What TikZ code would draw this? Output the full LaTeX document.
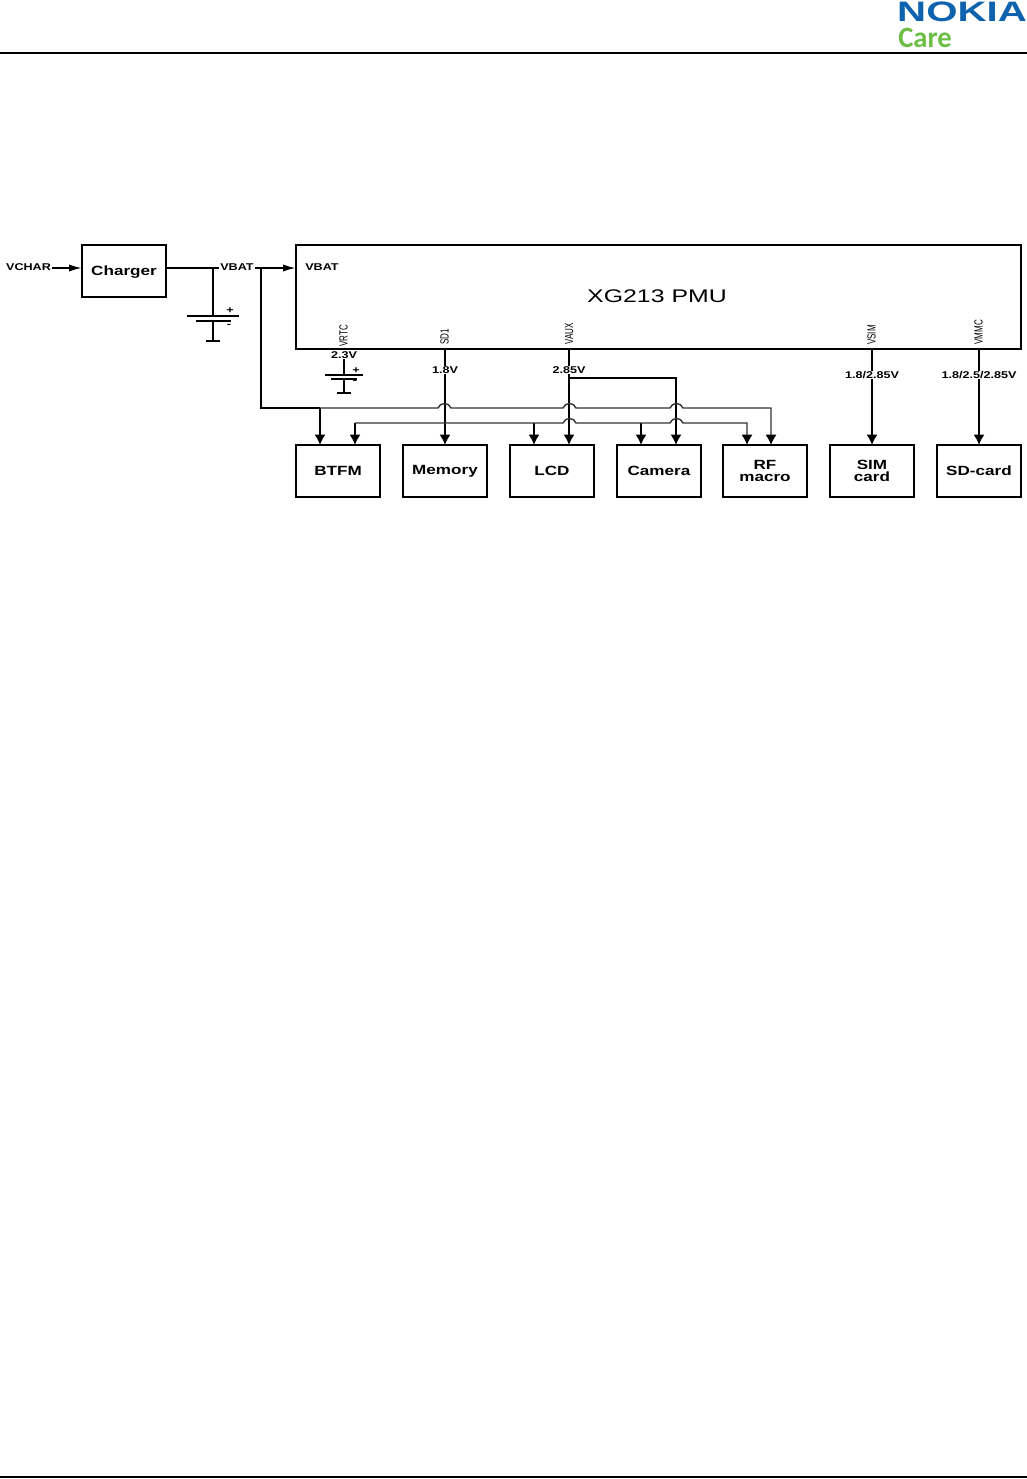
\documentclass[tikz,border=0pt]{standalone}
\usepackage{fontspec}
\setmainfont{Liberation Sans}
\newfontfamily\carefont{Carlito}
\usetikzlibrary{arrows.meta}
\newcommand{\wide}[1]{\scalebox{1.28}[1]{#1}}
\newcommand{\pin}[1]{\rotatebox{90}{\scalebox{.68}[1]{#1}}}
\definecolor{nokiablue}{HTML}{0F63AE}
\definecolor{caregreen}{HTML}{6DBE45}
\begin{document}
\begin{tikzpicture}[
    x=0.25mm, y=-0.25mm,
    >={Latex[length=2.6mm,width=2.8mm,color=black]},
    side/.style={-{Latex[length=3.2mm,width=1.8mm]}},
    font=\fontsize{9.5pt}{9pt}\selectfont\bfseries,
    box/.style={rectangle, draw=black, line width=2.05pt, text centered, align=center, minimum width=21mm, minimum height=13mm, inner sep=0pt, outer sep=0pt},
    pmubox/.style={rectangle, draw=black, line width=2pt, minimum width=181.25mm, minimum height=26mm, outer sep=0pt},
    wire/.style={draw=black, line width=1.4pt},
    bus/.style={draw=black!80, line width=1pt},
    plate/.style={draw=black, line width=1.1pt},
    tag/.style={font=\fontsize{7pt}{7pt}\selectfont\bfseries, inner sep=0.5pt},
    volt/.style={tag, fill=white},
    pinlabel/.style={font=\fontsize{8.4pt}{8pt}\selectfont, inner sep=0pt, anchor=south},
    rule/.style={draw=black, line width=1.4pt}
]
    \useasboundingbox (0,0) rectangle (1027,1479);

    % 1. Page header and footer
    \coordinate (headl) at (0,53);
    \coordinate (headr) at (1027,53);
    \coordinate (footl) at (0,1477);
    \coordinate (footr) at (1027,1477);
    \draw[rule] (headl) -- (headr);
    \draw[rule] (footl) -- (footr);
    \node[font=\fontsize{20pt}{20pt}\selectfont\bfseries, text=nokiablue, inner sep=0pt] (nokia) at (962,12) {\scalebox{1.43}[1]{NOKIA}};
    \node[font=\carefont\fontsize{21pt}{22pt}\selectfont\bfseries, text=caregreen, inner sep=0pt, anchor=west] (care) at (898,38) {\scalebox{.97}[1]{Care}};

    % 2. Charger and PMU
    \node[box] (charger) at (124,271) {\raisebox{-3pt}[0pt][0pt]{\wide{Charger}}};
    \node[pmubox] (pmu) at (658.5,297) {};
    \node[font=\fontsize{13pt}{13pt}\selectfont, inner sep=0pt] (pmuname) at (657,296) {\scalebox{1.36}[1]{XG213 PMU}};

    % 3. Load boxes
    \node[box] (btfm) at (338,471) {\wide{BTFM}};
    \node[box] (memory) at (445,471) {\raisebox{-2.6pt}[0pt][0pt]{\wide{Memory}}};
    \node[box] (lcd) at (552,471) {\wide{LCD}};
    \node[box] (camera) at (659,471) {\wide{Camera}};
    \node[box] (rf) at (765,471) {\wide{RF}\\\wide{macro}};
    \node[box] (sim) at (872,471) {\wide{SIM}\\\wide{card}};
    \node[box] (sd) at (979,471) {\wide{SD-card}};

    % 4. VBAT input
    \node[tag] (vchar) at (28.5,267) {\wide{VCHAR}};
    \node[tag] (vbat) at (237,267) {\wide{VBAT}};
    \node[tag] (pmuvbat) at (322,267) {\wide{VBAT}};
    \coordinate (vbatin) at (pmu.west |- 0,268);
    \coordinate (vbatj) at (261,268);
    \draw[wire, side] (vchar.east |- 0,268) -- (charger.west |- 0,268);
    \draw[wire] (charger.east |- 0,268) -- (vbat.west |- 0,268);
    \draw[wire, side] (vbat.east |- 0,268) -- (vbatin);

    % 5. Main battery
    \coordinate (bat1j) at (213,268);
    \coordinate (bat1t) at (213,316);
    \coordinate (bat1b) at (213,321);
    \coordinate (bat1g) at (213,341);
    \draw[wire] (bat1j) -- (bat1t);
    \draw[wire] (bat1b) -- (bat1g);
    \draw[plate] (187,316) -- (239,316);
    \draw[plate] (196,321) -- (231,321);
    \draw[plate] (206,341) -- (220,341);
    \node[tag] (bat1p) at (230,311) {\wide{+}};
    \node[tag] (bat1m) at (229,326) {\wide{-}};

    % 6. Backup battery
    \node[pinlabel] (vrtc) at (343.5,347) {\pin{VRTC}};
    \node[tag] (v23) at (344,355) {\wide{2.3V}};
    \coordinate (bat2t) at (344,375);
    \coordinate (bat2b) at (344,379);
    \coordinate (bat2g) at (344,393);
    \draw[wire] (v23.south) -- (bat2t);
    \draw[wire] (bat2b) -- (bat2g);
    \draw[plate] (325,375) -- (363,375);
    \draw[plate] (331,379) -- (357,379);
    \draw[plate] (337,393) -- (351,393);
    \node[tag] (bat2p) at (356,371) {\wide{+}};
    \node[tag] (bat2m) at (355,382) {\wide{-}};

    % 7. Regulator outputs
    \node[pinlabel] (sd1) at (444.5,345) {\pin{SD1}};
    \node[pinlabel] (vaux) at (569,345) {\pin{VAUX}};
    \node[pinlabel] (vsim) at (871.5,345) {\pin{VSIM}};
    \node[pinlabel] (vmmc) at (978.5,345) {\pin{VMMC}};
    \draw[wire, ->] (memory |- pmu.south) -- (memory.north);
    \coordinate (auxt) at (569,349);
    \draw[wire, ->] (auxt) -- (auxt |- lcd.north);
    \draw[wire, ->] (sim |- pmu.south) -- (sim.north);
    \draw[wire, ->] (sd |- pmu.south) -- (sd.north);
    \node[volt] (v18) at (445,370) {\wide{1.8V}};
    \node[volt] (v285) at (569,370) {\wide{2.85V}};
    \node[volt] (v1828) at (872,375) {\wide{1.8/2.85V}};
    \node[volt] (v1825) at (979,375) {\wide{1.8/2.5/2.85V}};

    % 8. VAUX branch to camera
    \coordinate (auxj) at (569,378);
    \coordinate (camt) at (676,378);
    \draw[wire, ->] (auxj) -- (camt) -- (camt |- camera.north);

    % 9. VBAT bus
    \coordinate (btfmv) at (320,408);
    \coordinate (rfv) at (771,408);
    \draw[wire] (vbatj) |- (btfmv);
    \draw[wire, ->] (btfmv) -- (btfmv |- btfm.north);
    \draw[bus, ->] (btfmv) -- (438,408) .. controls (440,402) and (449,402) .. (451,408)
        -- (563,408) .. controls (565,402) and (574,402) .. (576,408)
        -- (670,408) .. controls (672,402) and (681,402) .. (683,408)
        -- (rfv) -- (rfv |- rf.north);

    % 10. Second bus
    \coordinate (busl) at (355,423);
    \coordinate (lcdv) at (534,423);
    \coordinate (camv) at (641,423);
    \coordinate (rfw) at (747,423);
    \draw[wire, ->] (busl) -- (busl |- btfm.north);
    \draw[wire, ->] (lcdv) -- (lcdv |- lcd.north);
    \draw[wire, ->] (camv) -- (camv |- camera.north);
    \draw[bus, ->] (busl) -- (563,423) .. controls (565,417) and (574,417) .. (576,423)
        -- (670,423) .. controls (672,417) and (681,417) .. (683,423)
        -- (rfw) -- (rfw |- rf.north);

\end{tikzpicture}
\end{document}
